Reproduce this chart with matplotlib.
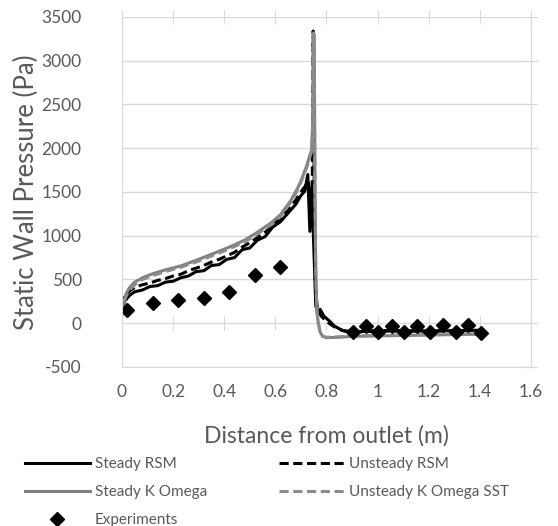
import matplotlib
matplotlib.use("Agg")
import matplotlib.pyplot as plt

plt.rcParams['font.family'] = ['Lato', 'DejaVu Sans']
plt.rcParams['axes.unicode_minus'] = False

# Steady RSM (black solid)
rsm_x = [0, 0.01, 0.03, 0.05, 0.08, 0.11, 0.14, 0.17, 0.2, 0.23, 0.26, 0.29, 0.32,
         0.35, 0.38, 0.41, 0.44, 0.47, 0.5, 0.53, 0.56, 0.59, 0.62, 0.65, 0.68,
         0.7, 0.715, 0.727, 0.735, 0.742, 0.75, 0.758, 0.765, 0.775, 0.79, 0.81,
         0.83, 0.86, 0.9, 1.0, 1.1, 1.2, 1.3, 1.4]
rsm_y = [150, 250, 320, 360, 380, 420, 430, 470, 480, 520, 540, 590, 600,
         660, 670, 730, 750, 840, 860, 950, 990, 1100, 1160, 1260, 1360,
         1460, 1510, 1700, 1050, 1550, 900, 200, 130, 160, 80, 30,
         -30, -80, -100, -85, -85, -90, -85, -80]

# Unsteady RSM (black dashed)
ursm_x = [0, 0.01, 0.03, 0.05, 0.08, 0.11, 0.14, 0.17, 0.2, 0.23, 0.26, 0.29, 0.32,
          0.35, 0.38, 0.41, 0.44, 0.47, 0.5, 0.53, 0.56, 0.59, 0.62, 0.65, 0.68,
          0.7, 0.715, 0.73, 0.738, 0.744, 0.748, 0.752, 0.757, 0.765, 0.78, 0.8,
          0.83, 0.87, 0.9, 1.0, 1.1, 1.2, 1.3, 1.4]
ursm_y = [200, 300, 370, 410, 440, 460, 490, 510, 540, 560, 600, 630, 660,
          700, 730, 770, 810, 870, 920, 980, 1040, 1120, 1200, 1290, 1410,
          1500, 1560, 1620, 1100, 1400, 3340, 1500, 400, 150, 80, 20,
          -40, -90, -100, -90, -90, -90, -85, -85]

# Steady K Omega (grey solid)
sko_x = [0, 0.005, 0.015, 0.03, 0.05, 0.08, 0.12, 0.17, 0.23, 0.3, 0.36, 0.42,
         0.48, 0.53, 0.58, 0.62, 0.66, 0.69, 0.71, 0.725, 0.735, 0.742, 0.746,
         0.749, 0.752, 0.755, 0.758, 0.762, 0.768, 0.775, 0.785, 0.8, 0.85, 0.9,
         1.0, 1.1, 1.2, 1.3, 1.4]
sko_y = [100, 220, 330, 410, 470, 520, 565, 610, 655, 730, 800, 870,
         950, 1040, 1140, 1240, 1400, 1560, 1700, 1820, 1920, 1980, 2300,
         3320, 3300, 1500, 600, 150, 0, -100, -150, -165, -160, -150,
         -145, -140, -135, -130, -125]

# Unsteady K Omega SST (grey dashed)
uko_x = [0, 0.005, 0.015, 0.03, 0.05, 0.08, 0.12, 0.17, 0.23, 0.3, 0.36, 0.42,
         0.48, 0.53, 0.58, 0.62, 0.66, 0.69, 0.71, 0.725, 0.735, 0.742, 0.746,
         0.749, 0.752, 0.755, 0.758, 0.762, 0.768, 0.775, 0.785, 0.8, 0.85, 0.9,
         1.0, 1.1, 1.2, 1.3, 1.4]
uko_y = [90, 200, 300, 380, 440, 500, 545, 590, 640, 710, 780, 850,
         930, 1020, 1120, 1220, 1380, 1540, 1680, 1800, 1900, 1960, 2250,
         3300, 3280, 1500, 600, 150, 0, -100, -150, -160, -155, -145,
         -140, -135, -130, -125, -120]

# Experiments
exp_x = [0.02, 0.12, 0.22, 0.32, 0.42, 0.52, 0.62,
         0.905, 0.955, 1.003, 1.055, 1.105, 1.155, 1.205, 1.255, 1.305, 1.353, 1.405]
exp_y = [150, 230, 265, 285, 360, 550, 645,
         -100, -30, -95, -30, -105, -30, -100, -25, -95, -20, -115]

x_ticks = [0, 0.2, 0.4, 0.6, 0.8, 1, 1.2, 1.4, 1.6]
x_tick_labels = ['0', '0.2', '0.4', '0.6', '0.8', '1', '1.2', '1.4', '1.6']
y_ticks = [-500, 0, 500, 1000, 1500, 2000, 2500, 3000, 3500]

grid_col = '#d9d9d9'
text_col = '#595959'
grey = '#808080'

fig = plt.figure(figsize=(5.58, 5.26), dpi=100)
ax = fig.add_axes([0.2186, 0.3023, 0.733, 0.6654])

ax.plot(rsm_x, rsm_y, color='black', lw=2.2, label='Steady RSM')
ax.plot(ursm_x, ursm_y, color='black', lw=2.2, ls=(0, (3, 1.5)), label='Unsteady RSM')
ax.plot(sko_x, sko_y, color=grey, lw=2.2, label='Steady K Omega')
ax.plot(uko_x, uko_y, color='#8c8c8c', lw=2.2, ls=(0, (3, 1.5)), label='Unsteady K Omega SST')
ax.plot(exp_x, exp_y, ls='none', marker='D', ms=7.5, color='black', label='Experiments')

ax.set_xlim(0, 1.6)
ax.set_ylim(-500, 3500)
ax.set_xticks(x_ticks)
ax.set_xticklabels(x_tick_labels)
ax.set_yticks(y_ticks)
ax.yaxis.grid(True, color=grid_col, lw=1)
ax.set_axisbelow(True)

for s in ['left', 'right', 'bottom']:
    ax.spines[s].set_color(grid_col)
ax.spines['top'].set_visible(False)

ax.tick_params(axis='x', bottom=False, top=True, labelbottom=True, direction='inout',
               length=10, color=grid_col, labelsize=12.5, labelcolor=text_col, pad=7.5)
ax.tick_params(axis='y', left=False, right=True, direction='inout', length=10,
               color=grid_col, labelsize=12.5, labelcolor=text_col, pad=24)

# horizontal axis crossing at y = 0
sec = ax.secondary_xaxis(0, transform=ax.transData)
sec.set_xticks(x_ticks)
sec.tick_params(direction='inout', length=10, color=grid_col, labelbottom=False)
sec.spines['bottom'].set_visible(False)

ax.set_xlabel('Distance from outlet (m)', fontsize=16.5, color=text_col, labelpad=18)
ax.set_ylabel('Static Wall Pressure (Pa)', fontsize=18.5, color=text_col, labelpad=2)

h = {l.get_label(): l for l in ax.get_lines()}
order = ['Steady RSM', 'Steady K Omega', 'Experiments', 'Unsteady RSM', 'Unsteady K Omega SST']
leg = fig.legend([h[k] for k in order], order, loc='upper left',
                 bbox_to_anchor=(0.033, 0.142), ncol=2, frameon=False, fontsize=11,
                 handlelength=4.3, handletextpad=0.3, columnspacing=4.7,
                 labelspacing=0.9, borderaxespad=0)
for t in leg.get_texts():
    t.set_color(text_col)

fig.savefig('out.png', dpi=100)
